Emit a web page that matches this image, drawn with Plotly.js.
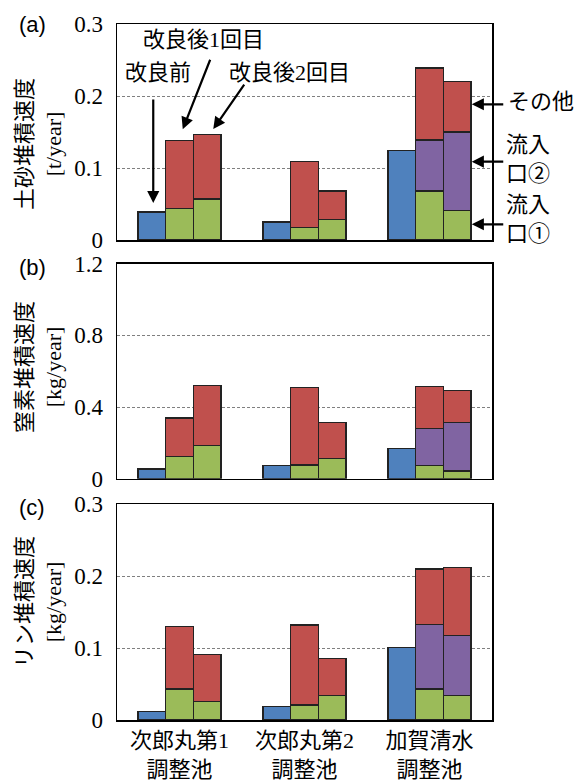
<!DOCTYPE html>
<html><head><meta charset="utf-8">
<script src="https://cdn.plot.ly/plotly-3.0.1.min.js"></script>
<style>html,body{margin:0;padding:0;background:#fff}#chart{width:582px;height:783px}</style>
</head><body><div id="chart"></div>
<script>
const groups = ['次郎丸第1<br>調整池','次郎丸第2<br>調整池','加賀清水<br>調整池'];

// (a) sediment [t/year]
const sedBefore  = [0.039, 0.025, 0.124];
const sedA1In1   = [0.044, 0.017, 0.068];
const sedA1In2   = [null, null, 0.071];
const sedA1Other = [0.094, 0.092, 0.100];
const sedA2In1   = [0.057, 0.029, 0.041];
const sedA2In2   = [null, null, 0.109];
const sedA2Other = [0.089, 0.039, 0.070];

// (b) nitrogen [kg/year]
const nBefore  = [0.054, 0.072, 0.169];
const nA1In1   = [0.122, 0.076, 0.074];
const nA1In2   = [null, null, 0.204];
const nA1Other = [0.217, 0.433, 0.235];
const nA2In1   = [0.187, 0.111, 0.043];
const nA2In2   = [null, null, 0.270];
const nA2Other = [0.335, 0.204, 0.181];

// (c) phosphorus [kg/year]
const pBefore  = [0.012, 0.019, 0.101];
const pA1In1   = [0.043, 0.021, 0.043];
const pA1In2   = [null, null, 0.090];
const pA1Other = [0.087, 0.111, 0.077];
const pA2In1   = [0.026, 0.034, 0.034];
const pA2In2   = [null, null, 0.084];
const pA2Other = [0.065, 0.052, 0.094];

const C = {before:'#4F81BD', in1:'#9BBB59', in2:'#8064A2', other:'#C0504D'};
const BW = 0.2216;
const idx = groups.map((g,i)=>i);
const pos = off => idx.map(i => i + off*BW);
const FONT = 'Liberation Serif, "Noto Sans CJK JP", serif';

function panel(xa, ya, before, a1, a2){
  const line = {color:'#222', width:1.2};
  const mk = (x, y, c, name) => ({type:'bar', x:x, y:y, width:BW, name:name, xaxis:xa, yaxis:ya,
    marker:{color:c, line:line}, showlegend:false, hoverinfo:'y'});
  return [
    mk(pos(-1), before, C.before, '改良前'),
    mk(pos(0), a1[0], C.in1, '流入口①'),
    mk(pos(0), a1[1], C.in2, '流入口②'),
    mk(pos(0), a1[2], C.other, 'その他'),
    mk(pos(1), a2[0], C.in1, '流入口①'),
    mk(pos(1), a2[1], C.in2, '流入口②'),
    mk(pos(1), a2[2], C.other, 'その他'),
  ];
}

const data = [].concat(
  panel('x','y', sedBefore, [sedA1In1, sedA1In2, sedA1Other], [sedA2In1, sedA2In2, sedA2Other]),
  panel('x2','y2', nBefore, [nA1In1, nA1In2, nA1Other], [nA2In1, nA2In2, nA2Other]),
  panel('x3','y3', pBefore, [pA1In1, pA1In2, pA1Other], [pA2In1, pA2In2, pA2Other])
);

const W=582, H=783, ML=117, MR=90, MT=24, MB=63;
const PW=W-ML-MR, PH=H-MT-MB;
const px = x => (x-ML)/PW;
const py = y => (H-MB-y)/PH;

function xax(anchor, showLabels){
  return {anchor:anchor, range:[-0.5,2.5], showline:true, mirror:true, linecolor:'black', linewidth:1.5,
    showgrid:false, zeroline:false, ticks:'', tickvals:idx, ticktext:groups, showticklabels:showLabels,
    tickfont:{family:FONT, size:22, color:'black'}, fixedrange:true};
}
function yax(anchor, domain, max, dtick){
  return {anchor:anchor, domain:domain, range:[0,max], dtick:dtick, tick0:0, showline:true, mirror:true,
    linecolor:'black', linewidth:1.5, showgrid:true, gridcolor:'#7f7f7f', griddash:'3px,2px', gridwidth:1,
    zeroline:false, ticks:'', ticklabelstandoff:8, tickfont:{family:FONT, size:23, color:'black'}, fixedrange:true};
}

const ann = [];
function txt(text, x, y, opts){
  ann.push(Object.assign({text:text, x:px(x), y:py(y), xref:'paper', yref:'paper', showarrow:false,
    xanchor:'center', yanchor:'middle', font:{family:FONT, size:22, color:'black'}}, opts||{}));
}
function arrow(x, y, ax, ay){
  ann.push({text:'', x:x, y:y, xref:'x', yref:'y', ax:ax, ay:ay, showarrow:true,
    arrowhead:2, arrowsize:1.1, arrowwidth:2.2, arrowcolor:'black'});
}
// y titles
txt('土砂堆積速度<br>[t/year]', 39, 144, {textangle:-90});
txt('窒素堆積速度<br>[kg/year]', 39, 367, {textangle:-90});
txt('リン堆積速度<br>[kg/year]', 39, 602, {textangle:-90});
// panel labels
const LF = {family:'Liberation Sans, sans-serif', size:22, color:'black'};
txt('(a)', 32, 25, {font:LF});
txt('(b)', 32, 267, {font:LF});
txt('(c)', 32, 507, {font:LF});
// callouts
txt('改良前', 158, 72);
txt('改良後1回目', 203, 40);
txt('改良後2回目', 289, 72);
txt('その他', 541, 101);
txt('流入<br>口②', 528, 159);
txt('流入<br>口①', 528, 219);
arrow(-0.21, 0.0514, 0, -105);
arrow(0.026, 0.1538, 28, -71);
arrow(0.270, 0.154, 32, -46);
arrow(2.338, 0.1885, 33, 0);
arrow(2.338, 0.1088, 33, 0);
arrow(2.338, 0.0218, 33, 0);

const layout = {
  width:W, height:H, margin:{l:ML, r:MR, t:MT, b:MB}, paper_bgcolor:'white', plot_bgcolor:'white',
  barmode:'stack', showlegend:false,
  font:{family:FONT, size:22, color:'black'},
  xaxis:xax('y', false), xaxis2:xax('y2', false), xaxis3:xax('y3', true),
  yaxis:yax('x', [py(240), 1], 0.3, 0.1),
  yaxis2:yax('x2', [py(478.7), py(263.7)], 1.2, 0.4),
  yaxis3:yax('x3', [0, py(504.3)], 0.3, 0.1),
  annotations:ann
};
Plotly.newPlot('chart', data, layout, {displayModeBar:false, staticPlot:true});
</script></body></html>
